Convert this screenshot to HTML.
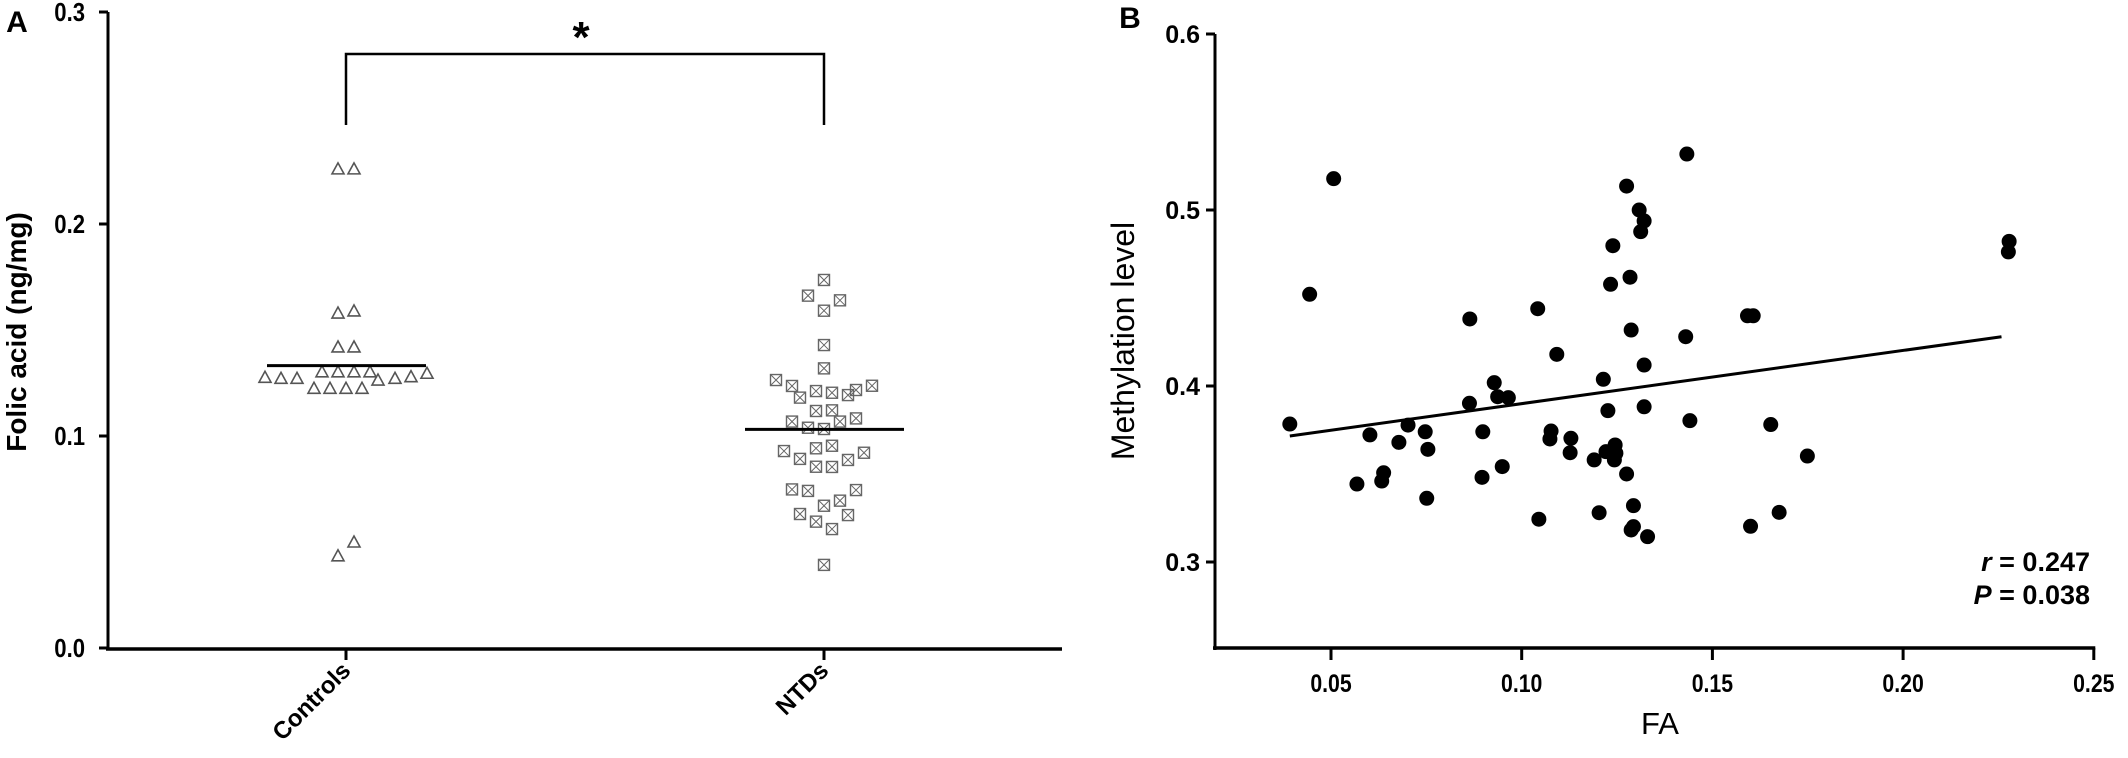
<!DOCTYPE html>
<html><head><meta charset="utf-8"><style>
html,body{margin:0;padding:0;background:#fff;}
svg{display:block;font-family:"Liberation Sans",Arial,sans-serif;}
</style></head><body>
<svg id="fig" width="2128" height="758" viewBox="0 0 2128 758" xmlns="http://www.w3.org/2000/svg">
<g id="panelA"></g>
<g id="panelB"></g>
</svg>
<script>
// ---------- Panel A data ----------
const groupNames = ["Controls", "NTDs"];
const controlsValues = [0.226,0.226,0.158,0.159,0.142,0.142,
 0.1277,0.1272,0.1272,0.1225,0.1303,0.1225,0.1303,0.1225,0.1303,0.1225,0.1303,0.1264,0.1272,0.1280,0.1296,
 0.050,0.0435];
const controlsJitter = [-8,8,-8,8,-8,8,
 -81,-65,-49,-32,-24,-16,-8,0,8,16,24,32,49,65,81,
 8,-8];
const ntdsValues = [0.1736,0.1662,0.1640,0.1591,0.1429,0.1319,0.1264,0.1236,0.1181,0.1212,0.1204,0.1193,0.1217,0.1237,
 0.1118,0.1121,0.1068,0.1039,0.1033,0.1068,0.1083,0.0929,0.0942,0.0954,0.0892,0.0855,0.0854,0.0887,0.0921,
 0.0748,0.0741,0.0745,0.0671,0.0695,0.0632,0.0596,0.0627,0.0561,0.0392];
const ntdsJitter = [0,-16,16,0,0,0,-48,-32,-24,-8,8,24,32,48,
 -8,8,-32,-16,0,16,32,-40,-8,8,-24,-8,8,24,40,
 -32,-16,32,0,16,-24,-8,24,8,0];
const meanValues = [0.1332, 0.1031];
const yTicksA = [0.0, 0.1, 0.2, 0.3];
const yTickLabelsA = ["0.0","0.1","0.2","0.3"];

// ---------- Panel B data ----------
const faValues = [0.0507,0.0444,0.0392,0.0602,0.0702,0.0747,0.0678,0.0754,0.0568,0.0638,0.0633,0.0751,
 0.0864,0.0863,0.0928,0.0937,0.0965,0.0898,0.0949,0.0896,0.1042,0.1092,0.1077,0.1074,0.1129,0.1127,0.1045,
 0.1190,0.1203,0.1214,0.1226,0.1233,0.1239,0.1275,0.1284,0.1287,0.1308,0.1321,0.1312,0.1321,0.1321,0.1275,
 0.1293,0.1293,0.1287,0.1330,0.1221,0.1245,0.1247,0.1243,0.1433,0.1430,0.1441,
 0.1592,0.1607,0.1653,0.1749,0.1675,0.1600,0.2278,0.2276];
const methValues = [0.5178,0.4521,0.3784,0.3722,0.3778,0.3740,0.3680,0.3640,0.3443,0.3507,0.3460,0.3362,
 0.4381,0.3902,0.4019,0.3939,0.3934,0.3740,0.3542,0.3481,0.4439,0.4180,0.3744,0.3699,0.3703,0.3621,0.3243,
 0.3580,0.3280,0.4038,0.3860,0.4578,0.4797,0.5136,0.4618,0.4318,0.5000,0.4938,0.4877,0.4119,0.3882,0.3500,
 0.3320,0.3201,0.3182,0.3144,0.3627,0.3665,0.3618,0.3580,0.5318,0.4280,0.3803,
 0.4399,0.4399,0.3781,0.3602,0.3282,0.3203,0.4822,0.4762];
const fitLine = [0.0392, 0.3716, 0.2258, 0.4280]; // x0,y0,x1,y1 of reported regression
const xTicksB = [0.05,0.10,0.15,0.20,0.25];
const xTickLabelsB = ["0.05","0.10","0.15","0.20","0.25"];
const yTicksB = [0.3,0.4,0.5,0.6];
const yTickLabelsB = ["0.3","0.4","0.5","0.6"];

const NS = "http://www.w3.org/2000/svg";
function mk(parent, tag, attrs, text){
  const e = document.createElementNS(NS, tag);
  for (const k in attrs) e.setAttribute(k, attrs[k]);
  if (text !== undefined) e.textContent = text;
  parent.appendChild(e);
  return e;
}
const groupX = [346, 824];
function ya(v){ return 648 - v*2120; }
function xb(v){ return 1331 + (v-0.05)*3814; }
function yb(v){ return 386 - (v-0.4)*1760; }

// ---------- Panel A ----------
const A = document.getElementById('panelA');
let t;
t = mk(A,'text',{x:17,y:32,'font-size':30,'font-weight':'bold','text-anchor':'middle'},'A');


t = mk(A,'line',{x1:108,y1:ya(0.3),x2:108,y2:650,stroke:'#000','stroke-width':3});


t = mk(A,'line',{x1:106,y1:649,x2:1062,y2:649,stroke:'#000','stroke-width':3.5});


yTicksA.forEach((v,i)=>{
  const tk = mk(A,'line',{x1:99,y1:ya(v),x2:108,y2:ya(v),stroke:'#000','stroke-width':3});
  
  
  const lb = mk(A,'text',{x:85,y:ya(v)+9,'font-size':26,'font-weight':'bold','text-anchor':'end','transform':'translate(85 0) scale(0.85 1) translate(-85 0)'},yTickLabelsA[i]);
  
  
});
t = mk(A,'text',{x:0,y:0,'font-size':28,'font-weight':'bold','text-anchor':'middle',transform:'translate(26 332) rotate(-90)'},'Folic acid (ng/mg)');


groupNames.forEach((g,i)=>{
  const tk = mk(A,'line',{x1:groupX[i],y1:649,x2:groupX[i],y2:660,stroke:'#000','stroke-width':3});
  
  
  const lb = mk(A,'text',{x:0,y:0,'font-size':24,'font-weight':'bold','text-anchor':'end',transform:`translate(${groupX[i]+6} ${672}) rotate(-45)`},g);
  
  
});
controlsValues.forEach((v,i)=>{
  const cx = groupX[0] + controlsJitter[i], cy = ya(v);
  const p = mk(A,'polygon',{points:`${cx},${cy-6} ${cx-6},${cy+5} ${cx+6},${cy+5}`,fill:'none',stroke:'#555','stroke-width':1.6});
  
  
});
ntdsValues.forEach((v,i)=>{
  const cx = groupX[1] + ntdsJitter[i], cy = ya(v);
  const g = mk(A,'g',{});
  
  
  mk(g,'rect',{x:cx-5.5,y:cy-5.5,width:11,height:11,fill:'none',stroke:'#666','stroke-width':1.4});
  mk(g,'path',{d:`M${cx-5.5},${cy-5.5}L${cx+5.5},${cy+5.5}M${cx+5.5},${cy-5.5}L${cx-5.5},${cy+5.5}`,stroke:'#666','stroke-width':1});
});
meanValues.forEach((v,i)=>{
  const l = mk(A,'line',{x1:groupX[i]-79,y1:ya(v),x2:groupX[i]+80,y2:ya(v),stroke:'#000','stroke-width':3});
  
  
});
t = mk(A,'path',{d:`M${groupX[0]},125 V54 H${groupX[1]} V125`,fill:'none',stroke:'#000','stroke-width':2.5});


t = mk(A,'text',{x:581,y:52,'font-size':44,'font-weight':'bold','text-anchor':'middle'},'*');



// ---------- Panel B ----------
const B = document.getElementById('panelB');
t = mk(B,'text',{x:1130,y:28,'font-size':30,'font-weight':'bold','text-anchor':'middle'},'B');


t = mk(B,'line',{x1:1215,y1:yb(0.6),x2:1215,y2:650,stroke:'#000','stroke-width':3});


t = mk(B,'line',{x1:1213,y1:648,x2:xb(0.25)+1.5,y2:648,stroke:'#000','stroke-width':3.5});


yTicksB.forEach((v,i)=>{
  const tk = mk(B,'line',{x1:1206,y1:yb(v),x2:1215,y2:yb(v),stroke:'#000','stroke-width':3});
  
  
  const lb = mk(B,'text',{x:1200,y:yb(v)+9,'font-size':25,'font-weight':'bold','text-anchor':'end'},yTickLabelsB[i]);
  
  
});
xTicksB.forEach((v,i)=>{
  const tk = mk(B,'line',{x1:xb(v),y1:648,x2:xb(v),y2:660,stroke:'#000','stroke-width':3});
  
  
  const lb = mk(B,'text',{x:xb(v),y:692,'font-size':25,'font-weight':'bold','text-anchor':'middle','transform':`translate(${xb(v)} 0) scale(0.85 1) translate(${-xb(v)} 0)`},xTickLabelsB[i]);
  
  
});
t = mk(B,'text',{x:0,y:0,'font-size':32,'text-anchor':'middle',transform:'translate(1134 341) rotate(-90)'},'Methylation level');


t = mk(B,'text',{x:1660,y:734,'font-size':31,'text-anchor':'middle'},'FA');


faValues.forEach((v,i)=>{
  const c = mk(B,'circle',{cx:xb(v),cy:yb(methValues[i]),r:7.5,fill:'#000'});
  
  
});
t = mk(B,'line',{x1:xb(fitLine[0]),y1:yb(fitLine[1]),x2:xb(fitLine[2]),y2:yb(fitLine[3]),stroke:'#000','stroke-width':3});


t = mk(B,'text',{x:2090,y:571,'font-size':27,'font-weight':'bold','text-anchor':'end'});


mk(t,'tspan',{'font-style':'italic'},'r');
mk(t,'tspan',{},' = 0.247');
t = mk(B,'text',{x:2090,y:604,'font-size':27,'font-weight':'bold','text-anchor':'end'});


mk(t,'tspan',{'font-style':'italic'},'P');
mk(t,'tspan',{},' = 0.038');
</script>
</body></html>
